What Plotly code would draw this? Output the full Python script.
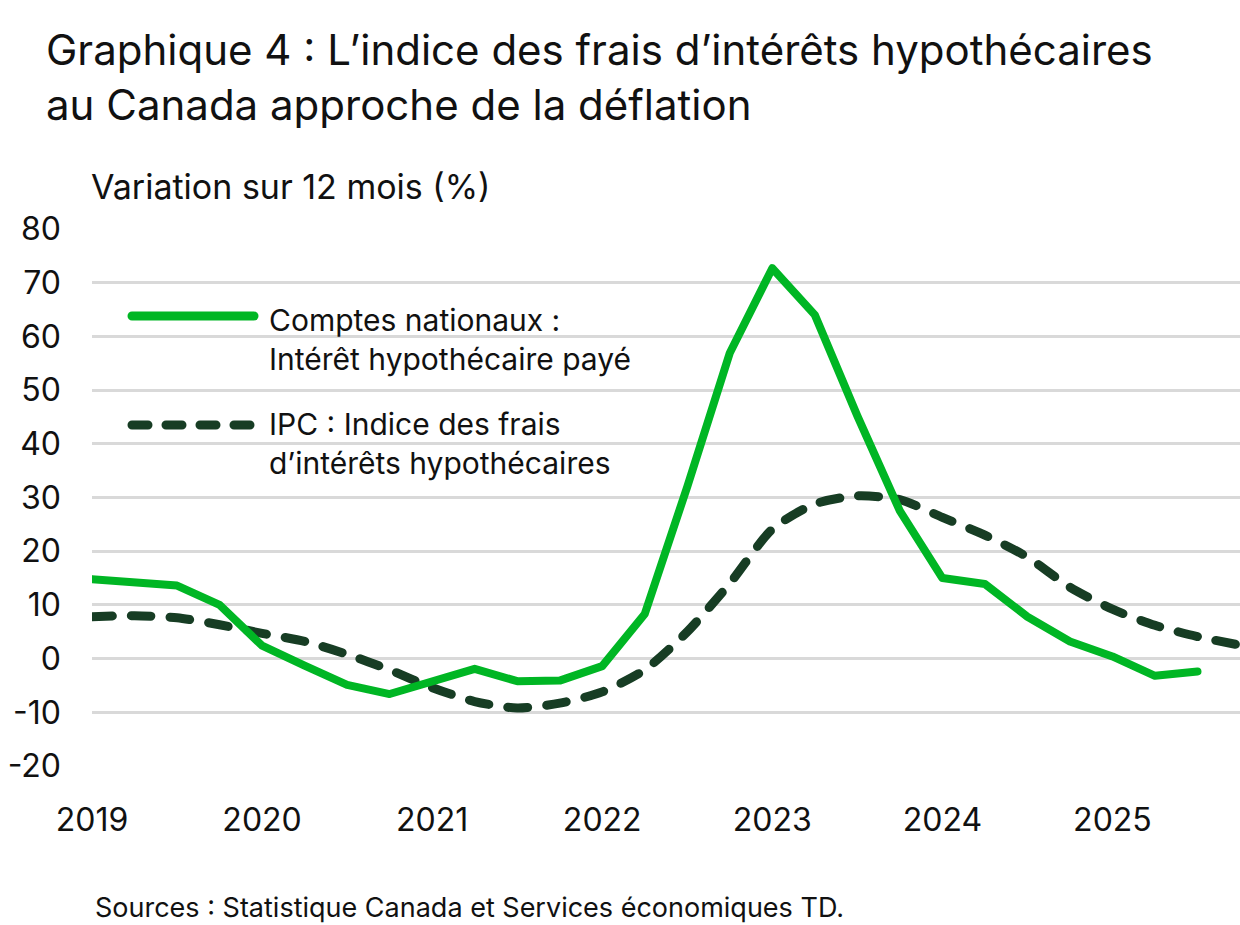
import plotly.graph_objects as go

# Graphique 4 : variation sur 12 mois (%), données trimestrielles

# trimestres 2019T1 .. 2025T4
quarters = [f"{y}T{q}" for y in range(2019, 2026) for q in range(1, 5)]

# Comptes nationaux : intérêt hypothécaire payé (2019T1 .. 2025T3)
comptes_nationaux = [14.8, 14.2, 13.6, 10.0, 2.4, -1.3, -4.9, -6.6,
                     -4.2, -1.9, -4.2, -4.1, -1.4, 8.3, 32.0, 56.9,
                     72.7, 64.0, 45.2, 27.5, 15.0, 13.9, 7.8, 3.2,
                     0.4, -3.2, -2.4]

# IPC : indice des frais d'intérêts hypothécaires (2019T1 .. 2025T4)
ipc_frais = [7.8, 8.0, 7.6, 6.3, 4.7, 3.2, 0.8, -2.1,
             -5.4, -8.0, -9.2, -8.3, -6.2, -2.1, 5.0, 14.0,
             24.1, 28.8, 30.3, 29.6, 26.3, 23.0, 18.9, 13.3,
             9.2, 6.2, 4.1, 2.5]

years = [2019, 2020, 2021, 2022, 2023, 2024, 2025]
y_ticks = [-20, -10, 0, 10, 20, 30, 40, 50, 60, 70, 80]
y_tick_text = ["-20", "-10", "0", "10", "20", "30", "40", "50", "60", "70", "80"]

legend_names = ["Comptes nationaux :<br>Intérêt hypothécaire payé",
                "IPC : Indice des frais<br>d’intérêts hypothécaires"]

GREEN = "#00b624"
DARK = "#173d24"
FONT = "Inter"


def quarter_pos(label):
    y, q = label.split("T")
    return int(y) + (int(q) - 1) / 4


x_all = [quarter_pos(q) for q in quarters]

fig = go.Figure()
fig.add_trace(go.Scatter(
    x=x_all[:len(ipc_frais)], y=ipc_frais, mode="lines",
    line=dict(color=DARK, width=9, dash="20px,19px", shape="spline", smoothing=0.7),
    hoverinfo="skip", showlegend=False))
fig.add_trace(go.Scatter(
    x=x_all[:len(comptes_nationaux)], y=comptes_nationaux, mode="lines",
    line=dict(color=GREEN, width=8),
    hoverinfo="skip", showlegend=False))

# plot area in pixels: left 92, right 1240, top 229, bottom 766
W, H = 1240, 925
L, R, T, B = 92, 0, 229, 159
pw, ph = W - L - R, H - T - B


def px(x):
    return (x - L) / pw


def py(y):
    return (H - B - y) / ph


# manual legend (long line samples)
fig.add_shape(type="line", xref="paper", yref="paper",
              x0=px(132), x1=px(254), y0=py(316), y1=py(316),
              line=dict(color=GREEN, width=9))
fig.add_shape(type="line", xref="paper", yref="paper",
              x0=px(132), x1=px(254), y0=py(425), y1=py(425),
              line=dict(color=DARK, width=9, dash="16px,18px"))
for name, ypix in zip(legend_names, [339, 443]):
    fig.add_annotation(text=name, xref="paper", yref="paper",
                       x=px(267), y=py(ypix), xanchor="left", yanchor="middle",
                       align="left", showarrow=False,
                       font=dict(family=FONT, size=30, color="#111111"))

fig.add_annotation(text="Graphique 4 : L’indice des frais d’intérêts hypothécaires<br>au Canada approche de la déflation",
                   xref="paper", yref="paper", x=px(44), y=py(77),
                   xanchor="left", yanchor="middle", align="left", showarrow=False,
                   font=dict(family=FONT, size=42, color="#111111"))
fig.add_annotation(text="Variation sur 12 mois (%)", xref="paper", yref="paper",
                   x=px(89), y=py(186), xanchor="left", yanchor="middle",
                   showarrow=False, font=dict(family=FONT, size=34, color="#111111"))
fig.add_annotation(text="Sources : Statistique Canada et Services économiques TD.",
                   xref="paper", yref="paper", x=px(93), y=py(907),
                   xanchor="left", yanchor="middle", showarrow=False,
                   font=dict(family=FONT, size=27, color="#111111"))

fig.update_layout(
    width=W, height=H,
    margin=dict(l=L, r=R, t=T, b=B),
    paper_bgcolor="white", plot_bgcolor="white",
    font=dict(family=FONT, size=32, color="#111111"),
)
fig.update_xaxes(range=[2019, 2025.75], tickvals=years, ticktext=[str(y) for y in years],
                 showgrid=False, zeroline=False, showline=False, ticks="",
                 ticklabelstandoff=32, tickfont=dict(size=32))
fig.update_yaxes(range=[-20, 80], tickvals=y_ticks, ticktext=y_tick_text, showgrid=True,
                 gridcolor="#d9d9d9", gridwidth=3, zeroline=False, showline=False,
                 ticks="", ticklabelstandoff=30, tickfont=dict(size=32))

fig.write_html("out.html", config={"displayModeBar": False}, post_script=(
    "document.body.style.margin='0';"
    "document.querySelectorAll('.scatterlayer path.js-line, .shapelayer path')"
    ".forEach(function(p){p.style.strokeLinecap='round';p.style.strokeLinejoin='round';});"))
